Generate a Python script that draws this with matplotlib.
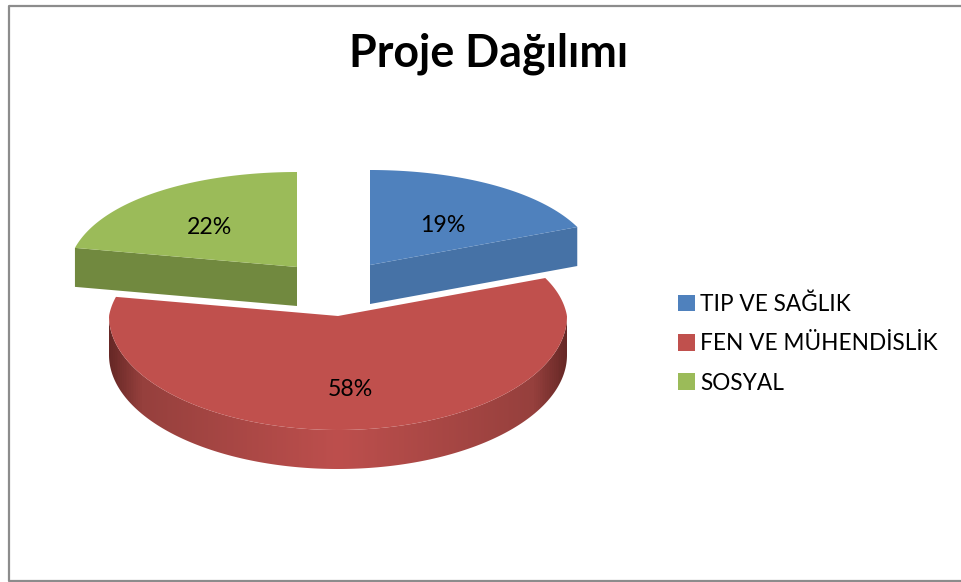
import numpy as np
import matplotlib
matplotlib.use('Agg')
import matplotlib.pyplot as plt
from matplotlib.colors import LinearSegmentedColormap
from matplotlib.patches import Patch, Polygon

plt.rcParams['font.family'] = ['Lato', 'DejaVu Sans']

title = 'Proje Dağılımı'
categories = ['TIP VE SAĞLIK', 'FEN VE MÜHENDİSLİK', 'SOSYAL']
values = [19, 58, 22]
value_labels = ['19%', '58%', '22%']

colors = ['#4f81bd', '#c0504d', '#9bbb59']
side_colors = ['#4672a6', '#8a3a38', '#71893f']

# pie geometry, in pixels
cx, cy = 338, 316
rx, ry = 229, 114
depth = 39
back_kx, back_ky = 0.09, 0.2  # back half looks squashed
offsets = [(32, -51), (0, 0), (-41, -49)]
label_nudge = [(0, 3), (-1, -1), (-5, 0)]


def ellipse(ang):
    s, c = np.sin(ang), np.cos(ang)
    back = c > 0
    x = np.where(back, s / (1 + back_kx * np.maximum(c, 0)), s)
    y = np.where(back, c / (1 + back_ky * np.maximum(c, 0)), c)
    return rx * x, -ry * y


fig = plt.figure(figsize=(9.61, 5.82), dpi=100)
ax = fig.add_axes([0, 0, 1, 1])

# chart frame
ax.plot([961, 9, 9, 961], [5.5, 5.5, 581, 581], color='#8c8c8c', lw=1.6)

shares = np.array(values) / sum(values) * 2 * np.pi
ends = np.cumsum(shares)
starts = ends - shares

# red slice rim first, its shade goes dark towards the sides
rim_cmap = LinearSegmentedColormap.from_list(
    'rim', [(0, '#672826'), (0.07, '#96403d'), (0.5, '#bd4f4d'), (0.93, '#96403d'), (1, '#672826')])
arc = np.linspace(np.pi / 2, 3 * np.pi / 2, 300)
xa, ya = ellipse(arc)
rim_pts = np.column_stack([np.r_[cx + xa, cx + xa[::-1]],
                           np.r_[cy + ya, cy + ya[::-1] + depth]])
rim_patch = Polygon(rim_pts, facecolor='none', edgecolor='none')
ax.add_patch(rim_patch)
img = ax.imshow(np.linspace(0, 1, 458)[None, :], cmap=rim_cmap, aspect='auto',
                extent=(cx - rx, cx + rx, cy + ry + depth, cy - ry))
img.set_clip_path(rim_patch)

for i in [1, 2, 0]:
    ox, oy = offsets[i]
    ang = np.linspace(starts[i], ends[i], 200)
    xa, ya = ellipse(ang)
    x0, y0 = cx + ox, cy + oy
    if i != 1:
        # cut face of the pulled out slices
        k = -1 if i == 0 else 0
        xe, ye = x0 + xa[k], y0 + ya[k]
        ax.add_patch(Polygon([(x0, y0), (xe, ye), (xe, ye + depth), (x0, y0 + depth)],
                             facecolor=side_colors[i], edgecolor='none'))
    pts = np.column_stack([np.r_[x0, x0 + xa], np.r_[y0, y0 + ya]])
    ax.add_patch(Polygon(pts, facecolor=colors[i], edgecolor='none'))

    mid = (starts[i] + ends[i]) / 2
    lx, ly = ellipse(np.array(mid))
    ax.text(x0 + 0.6 * lx + label_nudge[i][0], y0 + 0.6 * ly + 6 + label_nudge[i][1],
            value_labels[i], fontsize=16.7, ha='center', va='center', color='black')

ax.text(489, 54, title, fontsize=32.2, fontweight='bold', ha='center', va='center', color='black')

handles = [Patch(facecolor=c, edgecolor='none') for c in colors]
ax.legend(handles, categories, loc='center left', bbox_to_anchor=(669, 343.5),
          bbox_transform=ax.transData, frameon=False, fontsize=16.3,
          handlelength=0.77, handleheight=0.77, handletextpad=0.2,
          labelspacing=0.81, borderaxespad=0, borderpad=0.4)

ax.set_xlim(0, 961)
ax.set_ylim(582, 0)
ax.axis('off')

fig.savefig('out.png', dpi=100)
